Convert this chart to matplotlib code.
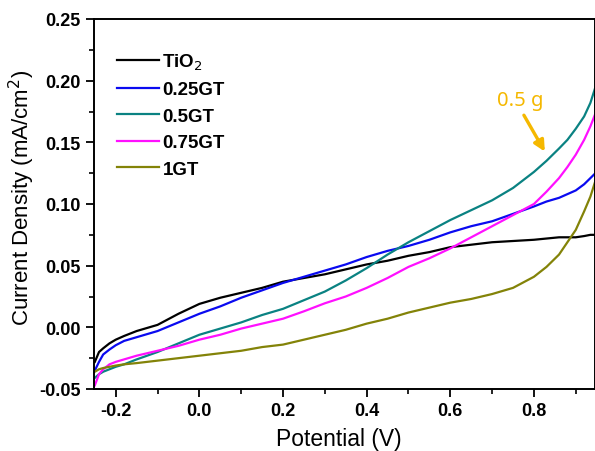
import matplotlib
matplotlib.use("Agg")
import matplotlib.pyplot as plt
from matplotlib.ticker import MultipleLocator, FormatStrFormatter

plt.rcParams['font.family'] = ['Liberation Sans', 'DejaVu Sans']

potential = [-0.25, -0.24, -0.23, -0.215, -0.2, -0.18, -0.15, -0.1, -0.05, 0.0, 0.05,
             0.1, 0.15, 0.2, 0.25, 0.3, 0.35, 0.4, 0.45, 0.5, 0.55, 0.6, 0.65, 0.7,
             0.75, 0.8, 0.83, 0.86, 0.88, 0.9, 0.92, 0.935, 0.95]

tio2 = [-0.028, -0.020, -0.017, -0.013, -0.010, -0.007, -0.003, 0.002, 0.011, 0.019, 0.024,
        0.028, 0.032, 0.037, 0.040, 0.043, 0.047, 0.051, 0.054, 0.058, 0.061, 0.065, 0.067, 0.069,
        0.070, 0.071, 0.072, 0.073, 0.073, 0.073, 0.074, 0.075, 0.075]

gt025 = [-0.035, -0.028, -0.022, -0.018, -0.0145, -0.011, -0.008, -0.003, 0.004, 0.011, 0.017,
         0.024, 0.030, 0.036, 0.041, 0.046, 0.051, 0.057, 0.062, 0.066, 0.071, 0.077, 0.082, 0.086,
         0.092, 0.098, 0.102, 0.105, 0.108, 0.111, 0.116, 0.121, 0.126]

gt05 = [-0.041, -0.038, -0.036, -0.034, -0.032, -0.030, -0.026, -0.020, -0.013, -0.006, -0.001,
        0.004, 0.010, 0.015, 0.022, 0.029, 0.038, 0.048, 0.059, 0.069, 0.078, 0.087, 0.095, 0.103,
        0.113, 0.126, 0.135, 0.145, 0.152, 0.161, 0.171, 0.182, 0.198]

gt075 = [-0.047, -0.038, -0.034, -0.030, -0.028, -0.026, -0.023, -0.019, -0.015, -0.010, -0.006,
         -0.001, 0.003, 0.007, 0.013, 0.0195, 0.025, 0.032, 0.040, 0.049, 0.056, 0.064, 0.073, 0.082,
         0.091, 0.100, 0.110, 0.121, 0.130, 0.140, 0.152, 0.163, 0.176]

gt1 = [-0.036, -0.034, -0.033, -0.032, -0.031, -0.030, -0.029, -0.027, -0.025, -0.023, -0.021,
       -0.019, -0.016, -0.014, -0.010, -0.006, -0.002, 0.003, 0.007, 0.012, 0.016, 0.020, 0.023, 0.027,
       0.032, 0.041, 0.049, 0.059, 0.069, 0.079, 0.094, 0.106, 0.122]

labels = ['TiO$_2$', '0.25GT', '0.5GT', '0.75GT', '1GT']
colors = ['#000000', '#0a0af0', '#0a8282', '#ff10ff', '#838308']
series = [tio2, gt025, gt05, gt075, gt1]

note_text = '0.5 g'
note_pos = (0.767, 0.184)
arrow_tail = (0.776, 0.172)
arrow_head = (0.826, 0.1425)

fig = plt.figure(figsize=(5.95, 4.52), dpi=100)
ax = fig.add_axes([94/595, 62/452, 501/595, 370/452])

for s, c, l in zip(series, colors, labels):
    ax.plot(potential, s, color=c, lw=1.6, label=l)

ax.set_xlim(-0.252, 0.946)
ax.set_ylim(-0.05, 0.25)
ax.xaxis.set_major_locator(MultipleLocator(0.2))
ax.xaxis.set_minor_locator(MultipleLocator(0.1))
ax.yaxis.set_major_locator(MultipleLocator(0.05))
ax.yaxis.set_minor_locator(MultipleLocator(0.025))
ax.xaxis.set_major_formatter(FormatStrFormatter('%.1f'))
ax.yaxis.set_major_formatter(FormatStrFormatter('%.2f'))

for sp in ax.spines.values():
    sp.set_linewidth(1.4)
ax.tick_params(which='major', direction='out', length=6, width=1.3, labelsize=13, top=False, right=False)
ax.tick_params(which='minor', direction='out', length=3.5, width=1.2, top=False, right=False)
for t in ax.get_xticklabels() + ax.get_yticklabels():
    t.set_fontweight('bold')

ax.set_xlabel('Potential (V)', fontsize=16.5)
ax.set_ylabel('Current Density (mA/cm$^2$)', fontsize=16)
ax.xaxis.set_label_coords(0.489, -0.103)
ax.yaxis.set_label_coords(-0.113, 0.52)

leg = ax.legend(loc='upper left', bbox_to_anchor=(0.013, 0.958), frameon=False,
                prop={'weight': 'bold', 'size': 13.5}, handlelength=2.2, handletextpad=0.2,
                labelspacing=0.5)

ax.text(note_pos[0], note_pos[1], note_text, color='#f5b800', fontsize=14.5,
        ha='center', va='center', fontfamily='Noto Sans', fontweight='semibold')
ax.annotate('', xy=arrow_head, xytext=arrow_tail,
            arrowprops=dict(arrowstyle='-|>', color='#f5b800', lw=2.4, mutation_scale=16,
                            shrinkA=0, shrinkB=0))

fig.savefig('out.png', dpi=100)
